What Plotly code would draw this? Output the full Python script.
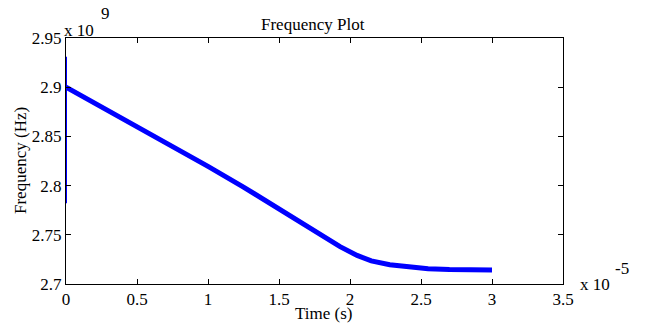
import plotly.graph_objects as go

# Time in units of 1e-5 s, frequency in units of 1e9 Hz
time_s = [0, 0.25, 0.5, 0.75, 1.0, 1.25, 1.5, 1.65, 1.8, 1.93, 2.05, 2.15,
          2.28, 2.42, 2.55, 2.7, 2.85, 3.0]
freq_hz = [2.900, 2.880, 2.860, 2.840, 2.8195, 2.7985, 2.776, 2.763, 2.749,
           2.738, 2.729, 2.7235, 2.7195, 2.7168, 2.7155, 2.7147, 2.7144, 2.7143]

spike_time = [0, 0]
spike_freq = [2.782, 2.931]

x_ticks = [0, 0.5, 1, 1.5, 2, 2.5, 3, 3.5]
y_ticks = [2.7, 2.75, 2.8, 2.85, 2.9, 2.95]
y_tick_text = ["2.7", "2.75", "2.8", "2.85", "2.9", "2.95"]

FONT = "Liberation Serif"
W, H = 645, 323
L, R, T, B = 66, 82, 38, 39

fig = go.Figure()
fig.add_trace(go.Scatter(x=time_s, y=freq_hz, mode="lines",
                         line=dict(color="#0000FF", width=5), showlegend=False,
                         hoverinfo="skip"))
fig.add_trace(go.Scatter(x=spike_time, y=spike_freq, mode="lines",
                         line=dict(color="#0000FF", width=2), showlegend=False,
                         hoverinfo="skip"))

axis_common = dict(showline=True, linecolor="black", linewidth=1, mirror="ticks",
                   ticks="inside", ticklen=5, tickcolor="black", showgrid=False,
                   zeroline=False, tickfont=dict(family=FONT, size=17, color="black"))

fig.update_xaxes(range=[0, 3.5], tickvals=x_ticks, **axis_common)
fig.update_yaxes(range=[2.7, 2.95], tickvals=y_ticks, ticktext=y_tick_text, **axis_common)

ann_font = dict(family=FONT, size=17, color="black")
fig.update_layout(
    width=W, height=H,
    font=dict(family=FONT, size=17, color="black"),
    margin=dict(l=L, r=R, t=T, b=B),
    plot_bgcolor="white", paper_bgcolor="white",
    annotations=[
        dict(text="Frequency Plot", xref="paper", yref="paper", x=0.497, y=1,
             yanchor="bottom", xanchor="center", yshift=2, showarrow=False, font=ann_font),
        dict(text="Time (s)", xref="paper", yref="paper", x=0.519, y=0,
             yanchor="middle", xanchor="center", yshift=-29, showarrow=False, font=ann_font),
        dict(text="Frequency (Hz)", xref="paper", yref="paper", x=0, y=0.5,
             xanchor="center", yanchor="middle", xshift=-46, textangle=-90,
             showarrow=False, font=ann_font),
        dict(text="x 10", xref="paper", yref="paper", x=0, y=1, xanchor="left",
             yanchor="middle", xshift=-4, yshift=8, showarrow=False, font=ann_font),
        dict(text="9", xref="paper", yref="paper", x=0, y=1, xanchor="left",
             yanchor="middle", xshift=33, yshift=25, showarrow=False, font=ann_font),
        dict(text="x 10", xref="paper", yref="paper", x=1, y=0, xanchor="left",
             yanchor="middle", xshift=15, yshift=0, showarrow=False, font=ann_font),
        dict(text="-5", xref="paper", yref="paper", x=1, y=0, xanchor="left",
             yanchor="middle", xshift=50, yshift=16, showarrow=False, font=ann_font),
    ],
)

fig.write_html("out.html", config={"displayModeBar": False},
               post_script="document.body.style.margin='0';")
